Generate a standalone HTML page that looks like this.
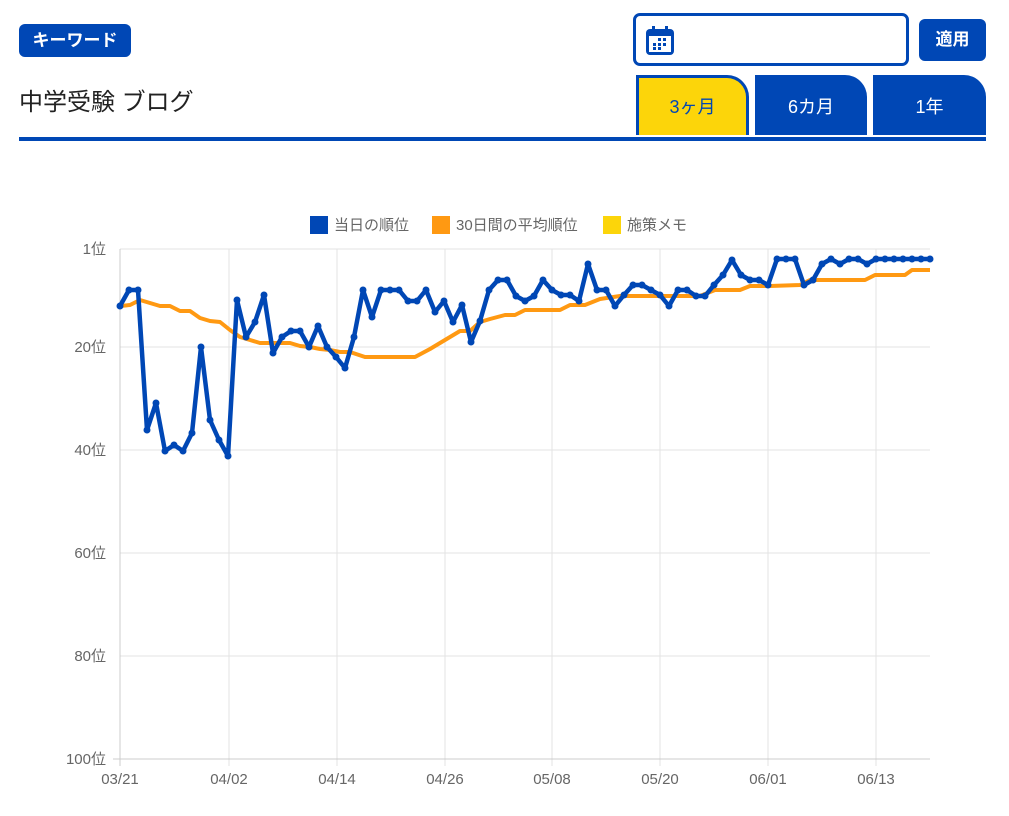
<!DOCTYPE html>
<html><head><meta charset="utf-8"><style>
body{margin:0;width:1009px;height:816px;background:#fff;font-family:"Liberation Sans","Noto Sans CJK JP",sans-serif;position:relative;overflow:hidden}
.a{position:absolute}
.badge{left:19px;top:24px;width:112px;height:33px;background:#0047b5;color:#fff;border-radius:6px;font-size:17px;text-align:center;line-height:33px;font-weight:bold}
.title{left:19px;top:82px;font-size:24px;color:#222}
.hr{left:19px;top:137px;width:967px;height:4px;background:#0047b5}
.inp{left:633px;top:13px;width:270px;height:47px;border:3px solid #0047b5;border-radius:7px}
.btn{left:919px;top:19px;width:67px;height:42px;background:#0047b5;border-radius:6px;color:#fff;font-size:17px;text-align:center;line-height:42px;font-weight:bold}
.tab{top:75px;height:60px;border-top-right-radius:22px;color:#fff;font-size:18px;text-align:center;line-height:64px;background:#0047b5;box-sizing:border-box}
</style></head><body>
<div class="a badge">キーワード</div>
<div class="a title">中学受験 ブログ</div>
<div class="a hr"></div>
<div class="a inp"><svg width="30" height="32" style="position:absolute;left:9px;top:9px"><rect x="1" y="4" width="28" height="26" rx="4" fill="#0047b5"/><rect x="4" y="11" width="22" height="16" fill="#fff"/><rect x="7" y="1" width="3" height="7" fill="#0047b5"/><rect x="20" y="1" width="3" height="7" fill="#0047b5"/><g fill="#0047b5"><rect x="13" y="13" width="3" height="3"/><rect x="18" y="13" width="3" height="3"/><rect x="8" y="18" width="3" height="3"/><rect x="13" y="18" width="3" height="3"/><rect x="18" y="18" width="3" height="3"/><rect x="8" y="22" width="3" height="3"/><rect x="13" y="22" width="3" height="3"/></g></svg></div>
<div class="a btn">適用</div>
<div class="a tab" style="left:636px;width:113px;background:#fcd50a;color:#0047b5;border:3px solid #0047b5;border-bottom:none;line-height:58px">3ヶ月</div>
<div class="a tab" style="left:755px;width:112px">6カ月</div>
<div class="a tab" style="left:873px;width:113px">1年</div>
<svg class="a" style="left:0;top:0" width="1009" height="816" font-family="Liberation Sans, Noto Sans CJK JP, sans-serif">
<g font-size="15" fill="#666">
<rect x="310" y="216" width="18" height="18" fill="#0047b5"/><text x="334" y="230">当日の順位</text>
<rect x="432" y="216" width="18" height="18" fill="#ff9912"/><text x="456" y="230">30日間の平均順位</text>
<rect x="603" y="216" width="18" height="18" fill="#fcd50a"/><text x="627" y="230">施策メモ</text>
</g>
<g stroke="#e3e3e3" stroke-width="1">
<line x1="120" y1="249" x2="930" y2="249"/><line x1="120" y1="347" x2="930" y2="347"/><line x1="120" y1="450" x2="930" y2="450"/><line x1="120" y1="553" x2="930" y2="553"/><line x1="120" y1="656" x2="930" y2="656"/>
<line x1="229" y1="249" x2="229" y2="766"/><line x1="337" y1="249" x2="337" y2="766"/><line x1="445" y1="249" x2="445" y2="766"/><line x1="552" y1="249" x2="552" y2="766"/><line x1="660" y1="249" x2="660" y2="766"/><line x1="768" y1="249" x2="768" y2="766"/><line x1="876" y1="249" x2="876" y2="766"/>
</g>
<g stroke="#ccc"><line x1="120" y1="249" x2="120" y2="766"/><line x1="113" y1="759" x2="930" y2="759"/></g>
<g font-size="15" fill="#666" text-anchor="end">
<text x="106" y="254">1位</text><text x="106" y="352">20位</text><text x="106" y="455">40位</text><text x="106" y="558">60位</text><text x="106" y="661">80位</text><text x="106" y="764">100位</text>
</g>
<g font-size="15" fill="#666" text-anchor="middle">
<text x="120" y="784">03/21</text><text x="229" y="784">04/02</text><text x="337" y="784">04/14</text><text x="445" y="784">04/26</text><text x="552" y="784">05/08</text><text x="660" y="784">05/20</text><text x="768" y="784">06/01</text><text x="876" y="784">06/13</text>
</g>
<polyline fill="none" stroke="#ff9912" stroke-width="4" stroke-linejoin="round" points="120,306 130,305 140,300 150,303 160,306 170,306 180,311 190,311 200,318 210,321 220,322 230,330 240,337 250,340 260,343 280,343 290,343 300,346 310,347 320,349 330,350 340,352 350,352 365,357 415,357 430,349 445,340 460,331 470,331 480,322 490,319 505,315 515,315 525,310 560,310 570,305 585,305 600,299 620,296 700,296 715,290 740,290 750,286 770,286 800,285 810,280 865,280 875,275 905,275 912,270 930,270"/>
<polyline id="b" fill="none" stroke="#0047b5" stroke-width="4.5" stroke-linejoin="round" points="120,306 129,290 138,290 147,430 156,403 165,451 174,445 183,451 192,433 201,347 210,420 219,440 228,456 237,300 246,337 255,322 264,295 273,353 282,337 291,331 300,331 309,347 318,326 327,347 336,357 345,368 354,337 363,290 372,317 381,290 390,290 399,290 408,301 417,301 426,290 435,312 444,301 453,322 462,305 471,342 480,321 489,290 498,280 507,280 516,296 525,301 534,296 543,280 552,290 561,295 570,295 579,301 588,264 597,290 606,290 615,306 624,295 633,285 642,285 651,290 660,295 669,306 678,290 687,290 696,296 705,296 714,285 723,275 732,260 741,275 750,280 759,280 768,285 777,259 786,259 795,259 804,285 813,280 822,264 831,259 840,264 849,259 858,259 867,264 876,259 885,259 894,259 903,259 912,259 921,259 930,259"/>
<g fill="#0047b5" id="dots"></g>
</svg>
<script>
var p=document.getElementById('b').getAttribute('points').trim().split(/\s+/),g=document.getElementById('dots'),s='';
p.forEach(function(q){var c=q.split(',');s+='<circle cx="'+c[0]+'" cy="'+c[1]+'" r="3.5"/>';});
g.innerHTML=s;
</script>
</body></html>
